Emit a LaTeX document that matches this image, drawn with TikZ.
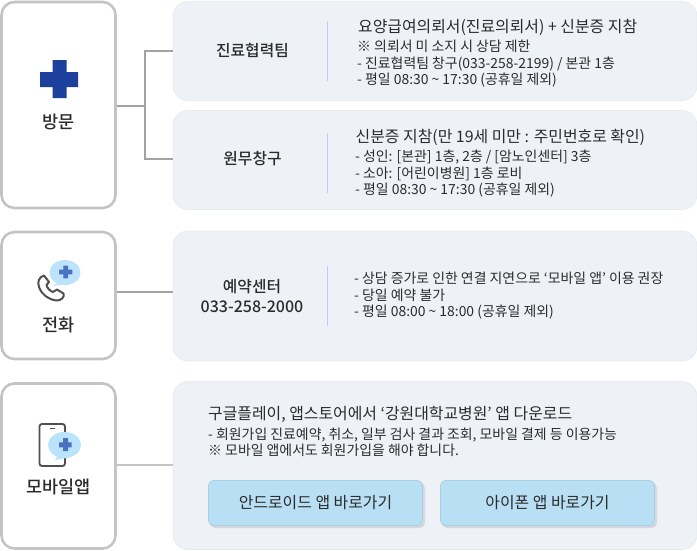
\documentclass[tikz,border=0pt]{standalone}
\usepackage{fontspec}
\setmainfont{Noto Sans CJK KR}
\newfontfamily\medfont{Noto Sans CJK KR Medium}
\definecolor{boxline}{HTML}{C4C4C4}
\definecolor{panelfill}{HTML}{EEF2F7}
\definecolor{panelline}{HTML}{E8ECF1}
\definecolor{linkline}{HTML}{A3A3A3}
\definecolor{sepline}{HTML}{C5CAE9}
\definecolor{crossblue}{HTML}{1C409C}
\definecolor{bubble}{HTML}{BBE3FB}
\definecolor{bubblecross}{HTML}{4A72C0}
\definecolor{iconline}{HTML}{505050}
\definecolor{btnfill}{HTML}{B9DFF4}
\definecolor{btnline}{HTML}{A9CFE4}
\definecolor{btnshadow}{HTML}{D3D9DF}
\definecolor{txt}{HTML}{2B2B2B}
\tikzset{
  kindbox/.style={draw=boxline, line width=2.6pt, fill=white, rounded corners=13pt},
  panel/.style={draw=panelline, line width=0.8pt, fill=panelfill, rounded corners=15pt},
  kindlabel/.style={font=\fontsize{17.5}{18}\selectfont\medfont, text=txt, inner sep=0pt},
  teamlabel/.style={font=\fontsize{15.8}{20}\selectfont\medfont, text=txt, inner sep=0pt, align=center},
  headtext/.style={font=\fontsize{15.9}{18}\selectfont, text=txt, inner sep=0pt, anchor=west},
  bodytext/.style={font=\fontsize{13.9}{16.6}\selectfont, text=txt, inner sep=0pt, anchor=north west, align=left},
  appbtn/.style={draw=btnline, line width=0.8pt, fill=btnfill, rounded corners=5pt, minimum width=214pt, minimum height=45pt, font=\fontsize{15.9}{18}\selectfont, text=txt, inner sep=0pt},
  linkline/.style={draw=linkline, line width=1.5pt},
  sepline/.style={draw=sepline, line width=0.8pt}
}
\begin{document}
\begin{tikzpicture}[x=1pt, y=-1pt]
\useasboundingbox (0,0) rectangle (697,550);
%
\node[kindbox, minimum width=114pt, minimum height=206pt, inner sep=0pt] (visit) at (58.5,105) {};
\node[kindbox, minimum width=114pt, minimum height=127pt, inner sep=0pt] (phone) at (58.5,295.5) {};
\node[kindbox, minimum width=114pt, minimum height=165pt, inner sep=0pt] (app) at (58.5,466) {};
%
\node[panel, minimum width=524pt, minimum height=99pt, inner sep=0pt] (team) at (435,51) {};
\node[panel, minimum width=524pt, minimum height=99pt, inner sep=0pt] (desk) at (435,160) {};
\node[panel, minimum width=524pt, minimum height=130pt, inner sep=0pt] (call) at (435,296) {};
\node[panel, minimum width=524pt, minimum height=168pt, inner sep=0pt] (store) at (435,465.5) {};
%
\coordinate (fork) at (145,106);
\draw[linkline] (visit.east |- fork) -- (fork);
\draw[linkline] (team.west |- 0,51) -| (fork) |- (desk.west |- 0,159);
\draw[linkline] (phone.east |- 0,292) -- (call.west |- 0,292);
\draw[linkline, draw=boxline] (app.east |- 0,465) -- (store.west |- 0,465);
%
\draw[sepline] (327.5,21) -- (327.5,81);
\draw[sepline] (327.5,133) -- (327.5,193);
\draw[sepline] (327.5,266) -- (327.5,326);
%
% kind boxes
\fill[crossblue] (52.5,60) rectangle (66.5,98) (40,72) rectangle (78,87);
\node[kindlabel] (visitlabel) at (58.5,122) {방문};
%
\fill[bubble] (65,272.5) ellipse (15.5 and 12.5);
\fill[bubble] (52,286) -- (60,282) -- (66,284) -- cycle;
\fill[bubblecross] (63.3,265.5) rectangle (68,278.3) (59,269.5) rectangle (72.3,274.3);
\draw[iconline, line width=2pt, line join=round]
  (44,275.5) .. controls (39,277) and (37,282) .. (39,287)
  .. controls (42,295) and (48,299) .. (56,300.5)
  .. controls (61,301) and (65,297) .. (63.5,293.5)
  -- (57,289.5) -- (53,292)
  .. controls (50,291) and (47,288) .. (46.5,285)
  -- (49,282) -- cycle;
\node[kindlabel] (phonelabel) at (58.5,325) {전화};
%
\draw[iconline, line width=1.8pt, rounded corners=2.5pt] (39.5,424) rectangle (65,466);
\draw[iconline, line width=1.4pt] (49.5,428.5) -- (54.5,428.5);
\fill[bubble] (64.5,445) ellipse (16.5 and 13);
\fill[bubble] (55,460) -- (58,455) -- (66,458) -- cycle;
\fill[bubblecross] (63,438) rectangle (68,451) (59,442.3) rectangle (71.7,447.3);
\node[kindlabel] (applabel) at (58.5,487) {모바일앱};
%
% panels
\node[teamlabel] (teamname) at (252.5,51) {진료협력팀};
\node[teamlabel] (deskname) at (252.5,159) {원무창구};
\node[teamlabel] (callname) at (252,296) {예약센터\\{\fontsize{16}{20}\selectfont 033-258-2000}};
%
\node[headtext] (teamhead) at (358,27) {요양급여의뢰서(진료의뢰서) + 신분증 지참};
\node[bodytext] (teambody) at (357,40) {※ 의뢰서 미 소지 시 상담 제한\\- 진료협력팀 창구(033-258-2199) / 본관 1층\\- 평일 08:30 \textasciitilde{} 17:30 (공휴일 제외)};
\node[headtext] (deskhead) at (355.5,137) {신분증 지참(만 19세 미만 : 주민번호로 확인)};
\node[bodytext] (deskbody) at (355,150) {- 성인: [본관] 1층, 2층 / [암노인센터] 3층\\- 소아: [어린이병원] 1층 로비\\- 평일 08:30 \textasciitilde{} 17:30 (공휴일 제외)};
\node[bodytext] (callbody) at (354,272) {- 상담 증가로 인한 연결 지연으로 ‘모바일 앱’ 이용 권장\\- 당일 예약 불가\\- 평일 08:00 \textasciitilde{} 18:00 (공휴일 제외)};
\node[headtext] (storehead) at (208,414) {구글플레이, 앱스토어에서 ‘강원대학교병원’ 앱 다운로드};
\node[bodytext] (storebody) at (208,427.5) {- 회원가입 진료예약, 취소, 일부 검사 결과 조회, 모바일 결제 등 이용가능\\※ 모바일 앱에서도 회원가입을 해야 합니다.};
%
\fill[btnshadow, rounded corners=5pt] (210,483) rectangle (425,528);
\fill[btnshadow, rounded corners=5pt] (442,483) rectangle (657,528);
\node[appbtn] (android) at (315.5,503) {안드로이드 앱 바로가기};
\node[appbtn] (iphone) at (547.5,503) {아이폰 앱 바로가기};
%
\end{tikzpicture}
\end{document}
